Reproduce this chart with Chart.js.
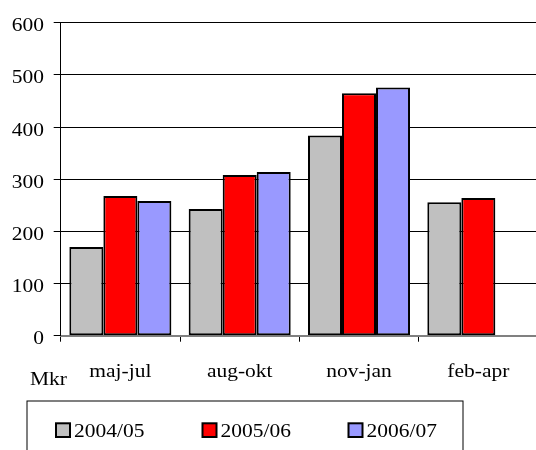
<!DOCTYPE html>
<html>
<head>
<meta charset="utf-8">
<script src="https://cdn.jsdelivr.net/npm/chart.js@4/dist/chart.umd.min.js"></script>
<style>
html,body{margin:0;padding:0;overflow:hidden;background:#fff;}
canvas{display:block;}
</style>
</head>
<body>
<canvas id="c" width="538" height="450"></canvas>
<script>
const categories = ['maj-jul', 'aug-okt', 'nov-jan', 'feb-apr'];
const seriesNames = ['2004/05', '2005/06', '2006/07'];
const values2004 = [170, 243, 384, 256];
const values2005 = [268, 308, 465, 264];
const values2006 = [258, 314, 476, null];
const yTicks = [0, 100, 200, 300, 400, 500, 600];
const unitLabel = 'Mkr';

const colors = ['#C0C0C0', '#FF0000', '#9999FF'];
const FONT = '"Liberation Serif", "Times New Roman", serif';
const STRETCH = 1.13;

function stretchedText(ctx, str, x, y, align) {
  ctx.save();
  ctx.font = '19px ' + FONT;
  ctx.fillStyle = '#000';
  ctx.textBaseline = 'alphabetic';
  ctx.textAlign = align;
  ctx.translate(x, y);
  ctx.scale(STRETCH, 1);
  ctx.fillText(str, 0, 0);
  ctx.restore();
}

const overlay = {
  id: 'overlay',
  afterDraw(chart) {
    const ctx = chart.ctx;
    const ys = chart.scales.y, xs = chart.scales.x;
    // y tick labels
    ys.ticks.forEach(t => {
      stretchedText(ctx, String(t.value), 44, ys.getPixelForValue(t.value) + 8.5, 'right');
    });
    // x tick labels
    chart.data.labels.forEach((lab, i) => {
      stretchedText(ctx, lab, xs.getPixelForValue(i), 376.5, 'center');
    });
    stretchedText(ctx, unitLabel, 30, 385, 'left');
    // legend box
    ctx.save();
    ctx.strokeStyle = '#000';
    ctx.lineWidth = 1;
    ctx.strokeRect(27, 401, 436, 60);
    const lx = [56, 202.5, 348.5];
    chart.data.datasets.forEach((ds, i) => {
      const x = lx[i];
      ctx.fillStyle = ds.backgroundColor;
      ctx.fillRect(x, 423.3, 14, 13.7);
      ctx.lineWidth = 2;
      ctx.strokeStyle = '#000';
      ctx.strokeRect(x, 423.3, 14, 13.7);
      stretchedText(ctx, ds.label, x + 18, 437.3, 'left');
    });
    ctx.restore();
  }
};

new Chart(document.getElementById('c'), {
  type: 'bar',
  data: {
    labels: categories,
    datasets: [
      { label: seriesNames[0], data: values2004, backgroundColor: colors[0] },
      { label: seriesNames[1], data: values2005, backgroundColor: colors[1] },
      { label: seriesNames[2], data: values2006, backgroundColor: colors[2] }
    ].map(d => Object.assign(d, { borderColor: '#000', borderWidth: 2, borderSkipped: false }))
  },
  options: {
    responsive: false,
    animation: false,
    devicePixelRatio: 1,
    layout: { padding: { top: 22.7, left: 0, right: 0, bottom: 0 } },
    datasets: { bar: { barPercentage: 1, categoryPercentage: 0.855 } },
    plugins: { legend: { display: false }, tooltip: { enabled: false } },
    scales: {
      x: {
        afterFit(s) { s.height = 114.3; },
        grid: { display: true, drawOnChartArea: false, tickLength: 6, color: '#000' },
        border: { display: true, color: '#808080', width: 2 },
        ticks: { display: false }
      },
      y: {
        min: 0, max: 600,
        afterFit(s) { s.width = 60.7; },
        afterBuildTicks(s) { s.ticks = yTicks.map(v => ({ value: v })); },
        grid: { color: '#000', lineWidth: 1, tickLength: 7 },
        border: { display: true, color: '#000', width: 1 },
        ticks: { display: false }
      }
    }
  },
  plugins: [overlay]
});
</script>
</body>
</html>
